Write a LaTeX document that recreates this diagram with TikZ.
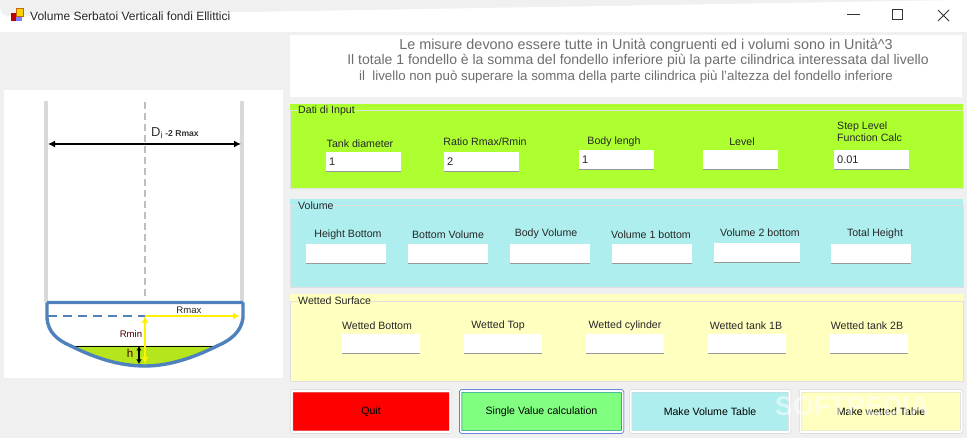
\documentclass[tikz,border=0pt]{standalone}
\usepackage{fontspec}
\setmainfont{Liberation Sans}
\usetikzlibrary{positioning, arrows.meta}
\definecolor{winbg}{HTML}{F0F0F0}
\definecolor{inputgreen}{HTML}{ADFF2F}
\definecolor{volblue}{HTML}{AFEEEE}
\definecolor{wetyellow}{HTML}{FFFFC0}
\definecolor{btngreen}{HTML}{80FF80}
\definecolor{tankblue}{HTML}{4F81BD}
\definecolor{liquid}{HTML}{B5E61D}
\definecolor{wallgray}{HTML}{D9D9D9}
\definecolor{notegray}{HTML}{6E6E6E}
\tikzset{
    lbl/.style={font=\fontsize{10.6}{12}\selectfont, inner sep=0pt, text=black!85},
    note/.style={inner sep=0pt, text=notegray},
    tbox/.style={fill=white, minimum height=19pt, inner sep=0pt},
    tval/.style={font=\fontsize{11}{12}\selectfont, inner sep=0pt, text=black!85},
    btn/.style={draw=black!18, double=white, double distance=2pt, line width=.5pt, rounded corners=1pt, minimum height=41pt, font=\fontsize{10.6}{12}\selectfont, inner sep=0pt},
    grp/.style={draw=white!88!black, line width=.7pt},
}
\begin{document}
\begin{tikzpicture}[x=1pt,y=-1pt]
    \useasboundingbox (0,0) rectangle (967,438);
    \fill[winbg] (0,0) rectangle (967,438);
    \fill[white] (0,32) -- (0,8) arc[start angle=180,end angle=90,radius=8] -- (959,0) arc[start angle=90,end angle=0,radius=8] -- (967,32) -- cycle;
    % title bar
    \node[lbl, anchor=west, font=\fontsize{12}{13}\selectfont] (title) at (30,16) {Volume Serbatoi Verticali fondi Ellittici};
    \fill[red!75!black] (11,13) rectangle (16,21);
    \fill[yellow!70!orange, draw=orange!80!black, line width=.4pt] (16,8) rectangle (23,16);
    \fill[blue!50!white] (16,17) rectangle (22,21);
    \draw[line width=1pt, black!80] (847,15) -- (860,15);
    \draw[line width=1pt, black!80] (892,10) rectangle (902,20);
    \draw[line width=1pt, black!80] (938,10) -- (949,21) (949,10) -- (938,21);
    % note
    \fill[white] (290,35) rectangle (962,97);
    \node[note, font=\fontsize{14.4}{15}\selectfont] (note1) at (646,46) {Le misure devono essere tutte in Unità congruenti ed i volumi sono in Unità\^{}3};
    \node[note, font=\fontsize{14}{15}\selectfont] (note2) at (638,61) {Il totale 1 fondello è la somma del fondello inferiore più la parte cilindrica interessata dal livello};
    \node[note, font=\fontsize{13.3}{15}\selectfont] (note3) at (626,77) {il\ \ livello non può superare la somma della parte cilindrica più l'altezza del fondello inferiore};
    % panels
    \fill[inputgreen] (290,104) rectangle (963,189);
    \fill[volblue] (290,199) rectangle (963,288);
    \fill[wetyellow] (290,294) rectangle (963,382);
    \draw[grp] (290,110.5) rectangle (963,188);
    \draw[grp] (290,205.5) rectangle (963,287);
    \draw[grp] (290,301) rectangle (963,381);
    \foreach \name/\cx/\cy/\col/\txt in {gi/298/111/inputgreen/Dati di Input, gv/298/206/volblue/Volume, gw/298/301/wetyellow/Wetted Surface}
        \node[lbl, anchor=west, fill=\col, inner xsep=0pt] (\name) at (\cx,\cy) {\txt};
    % text boxes
    \foreach \name/\cx/\cy/\w in {a/363.5/162/75, b/481.5/162/75, c/616.5/160/75, d/740.5/160/75, e/871.5/160/75,
            f/346/254/80, g/448/254/80, h/550/254/80, i/652/254/80, j/757/253/86, k/871/254/80,
            l/381/344/78, m/503/344/78, n/625/344/78, o/747/344/78, p/869/344/78}{
        \node[tbox, minimum width=\w pt] (box\name) at (\cx,\cy) {};
        \draw[black!40, line width=.8pt] (box\name.south west) -- (box\name.south east);
    }
    % labels of the boxes
    \foreach \name/\cx/\cy/\txt in {a/360/144/Tank diameter, b/485/142/{Ratio Rmax/Rmin}, c/614/142/Body lengh, d/742/142/Level,
            f/348/235/Height Bottom, g/448/235/Bottom Volume, h/546/234/Body Volume, i/651/235/Volume 1 bottom, j/760/233/Volume 2 bottom, k/875/234/Total Height,
            l/377/326/Wetted Bottom, m/498/326/Wetted Top, n/625/326/Wetted cylinder, o/746/326/Wetted tank 1B, p/867/326/Wetted tank 2B}
        \node[lbl] (lbl\name) at (\cx,\cy) {\txt};
    \node[lbl, anchor=west, align=left] (lble) at (837,131.5) {Step Level\\Function Calc};
    \node[tval, anchor=west] (vala) at (329,162) {1};
    \node[tval, anchor=west] (valb) at (447,162) {2};
    \node[tval, anchor=west] (valc) at (582,160) {1};
    \node[tval, anchor=west] (vale) at (837,160) {0.01};
    % buttons
    \node[btn, fill=red, minimum width=159pt] (quit) at (371,411.5) {Quit};
    \node[btn, fill=btngreen, draw=blue!70!cyan!80!black, minimum width=162pt] (single) at (541.5,411.5) {Single Value calculation};
    \node[btn, fill=volblue, minimum width=159pt] (voltable) at (710,411.5) {Make Volume Table};
    \node[btn, fill=wetyellow, minimum width=161pt] (wettable) at (881,411.5) {Make wetted Table};
    \node[text=white, opacity=.5, font=\bfseries\fontsize{27}{28}\selectfont, inner sep=0pt] (mark) at (852,406) {SOFTPEDIA};
    % tank
    \fill[white] (4,90) rectangle (283,378);
    \fill[liquid] (71,346) -- (217,346) .. controls (195,357) and (170,365) .. (145,366) .. controls (118,365) and (93,357) .. (71,346) -- cycle;
    \draw[black, line width=.9pt] (71,346) -- (217,346);
    \draw[wallgray, line width=3.2pt] (46,101) -- (46,302) (242,101) -- (242,302);
    \draw[black!25, line width=1.8pt, dash pattern=on 7pt off 4pt] (145,102) -- (145,300);
    \draw[tankblue, line width=1.2pt, dash pattern=on 9pt off 6pt] (48,316) -- (145,316);
    \draw[tankblue, line width=3.4pt] (47,302.5) -- (243,302.5) (47,302.5) -- (47,318) .. controls (48,332) and (57,340) .. (71,346) .. controls (93,357) and (118,366) .. (145,366) .. controls (170,366) and (195,357) .. (217,346) .. controls (231,340) and (241,332) .. (243,318) -- (243,302.5);
    \coordinate (dl) at (48,144);
    \coordinate (dr) at (241,144);
    \draw[{Latex[length=7pt,width=7pt]}-{Latex[length=7pt,width=7pt]}, line width=1.8pt] (dl) -- (dr);
    \node[lbl, anchor=west, text=black!80, font=\fontsize{13}{14}\selectfont] (diam) at (151,133) {D\textsubscript{i}\,{\bfseries\fontsize{8.6}{9}\selectfont -2 Rmax}};
    \coordinate (c0) at (145,316);
    \coordinate (c1) at (240,316);
    \coordinate (c2) at (145,364);
    \coordinate (h1) at (139,346);
    \coordinate (h2) at (139,364);
    \draw[yellow, line width=2.2pt, -{Latex[length=7pt,width=7pt]}] (c0) -- (c1);
    \draw[yellow, line width=2.2pt, {Latex[length=7pt,width=7pt]}-{Latex[length=7pt,width=7pt]}] (c0) -- (c2);
    \draw[black, line width=1.5pt, {Latex[length=4.5pt,width=5.5pt]}-{Latex[length=4.5pt,width=5.5pt]}] (h1) -- (h2);
    \node[lbl, font=\fontsize{9.6}{10}\selectfont] (rmax) at (189,310) {Rmax};
    \node[lbl, font=\fontsize{9.6}{10}\selectfont, text=black!70!red] (rmin) at (131,334) {Rmin};
    \node[lbl, font=\fontsize{11.5}{12}\selectfont, text=black!70!red] (hh) at (130,353) {h};
\end{tikzpicture}
\end{document}
